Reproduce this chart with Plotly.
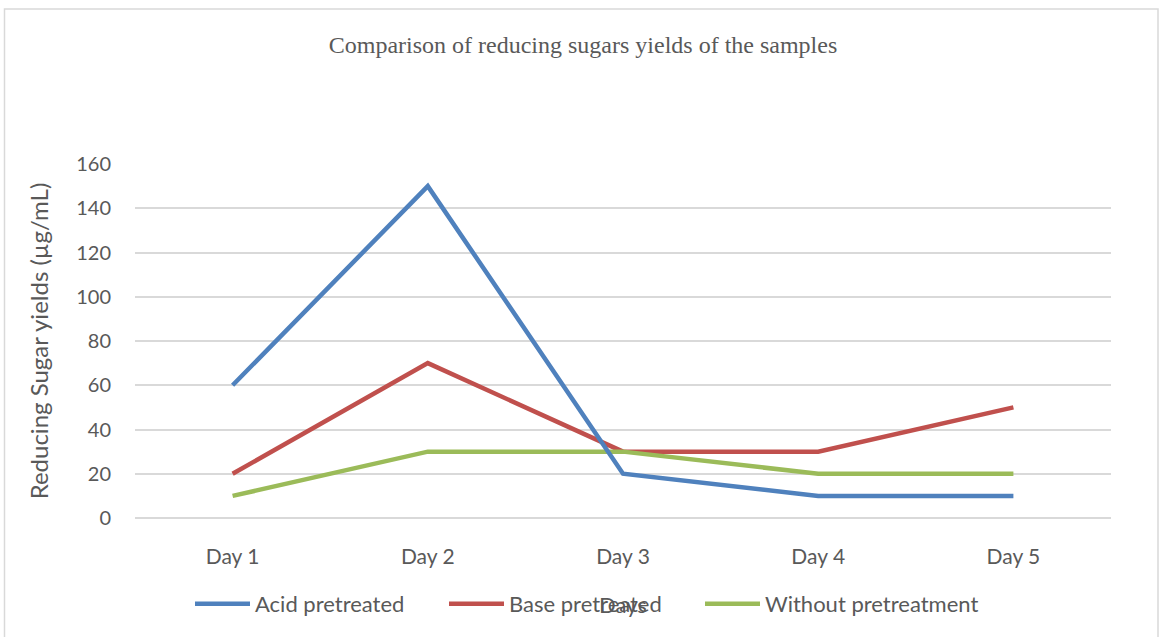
import plotly.graph_objects as go

days = ["Day 1", "Day 2", "Day 3", "Day 4", "Day 5"]
acid = [60, 150, 20, 10, 10]
base = [20, 70, 30, 30, 50]
without = [10, 30, 30, 20, 20]

W, H = 1160, 637
L, R, T, B = 135, 49, 164, 119
pw, ph = W - L - R, H - T - B

txt = "#595959"
grid = "#D9D9D9"
font = "Lato"


def px(x):
    return (x - L) / pw


def py(y):
    return (H - B - y) / ph


fig = go.Figure()
fig.add_trace(go.Scatter(x=days, y=base, mode="lines", name="Base pretreated",
                         line=dict(color="#C0504D", width=4.5), legend="legend2"))
fig.add_trace(go.Scatter(x=days, y=without, mode="lines", name="Without pretreatment",
                         line=dict(color="#9BBB59", width=4.5), legend="legend3"))
fig.add_trace(go.Scatter(x=days, y=acid, mode="lines", name="Acid pretreated",
                         line=dict(color="#4F81BD", width=4.5), legend="legend"))

fig.add_shape(type="rect", xref="paper", yref="paper",
              x0=px(4.5), x1=px(1158), y0=py(660), y1=py(9),
              line=dict(color=grid, width=1.5), fillcolor="rgba(0,0,0,0)", layer="below")

leg_common = dict(orientation="h", xanchor="left", yanchor="middle", itemwidth=55,
                  font=dict(size=22, color=txt), bgcolor="rgba(0,0,0,0)")

fig.update_layout(
    width=W, height=H,
    margin=dict(l=L, r=R, t=T, b=B, autoexpand=False),
    paper_bgcolor="white", plot_bgcolor="white",
    font=dict(family=font, color=txt, size=20),
    title=dict(text="Comparison of reducing sugars yields of the samples",
               font=dict(family="Liberation Serif", size=24, color=txt),
               x=583 / W, xanchor="center", y=1 - 45 / H, yanchor="middle",
               xref="container", yref="container"),
    xaxis=dict(range=[-0.5, 4.5], showgrid=False, showline=False, zeroline=False,
               ticks="", ticklabelstandoff=24, tickfont=dict(size=21),
               title=dict(text="Days", standoff=30, font=dict(size=22, color=txt))),
    yaxis=dict(range=[0, 160], dtick=20, showgrid=True, gridcolor=grid, gridwidth=1.5,
               zeroline=True, zerolinecolor=grid, zerolinewidth=1.5, showline=False,
               ticks="", ticklabelstandoff=23, tickfont=dict(size=20),
               title=dict(text="Reducing Sugar yields (µg/mL)", standoff=20,
                          font=dict(size=24, color=txt))),
    showlegend=True,
    legend=dict(x=px(190), y=py(604), **leg_common),
    legend2=dict(x=px(444), y=py(604), **leg_common),
    legend3=dict(x=px(700), y=py(604), **leg_common),
)

fig.write_html("out.html", config={"displayModeBar": False},
               post_script="document.body.style.margin='0';document.body.style.overflow='hidden';")
